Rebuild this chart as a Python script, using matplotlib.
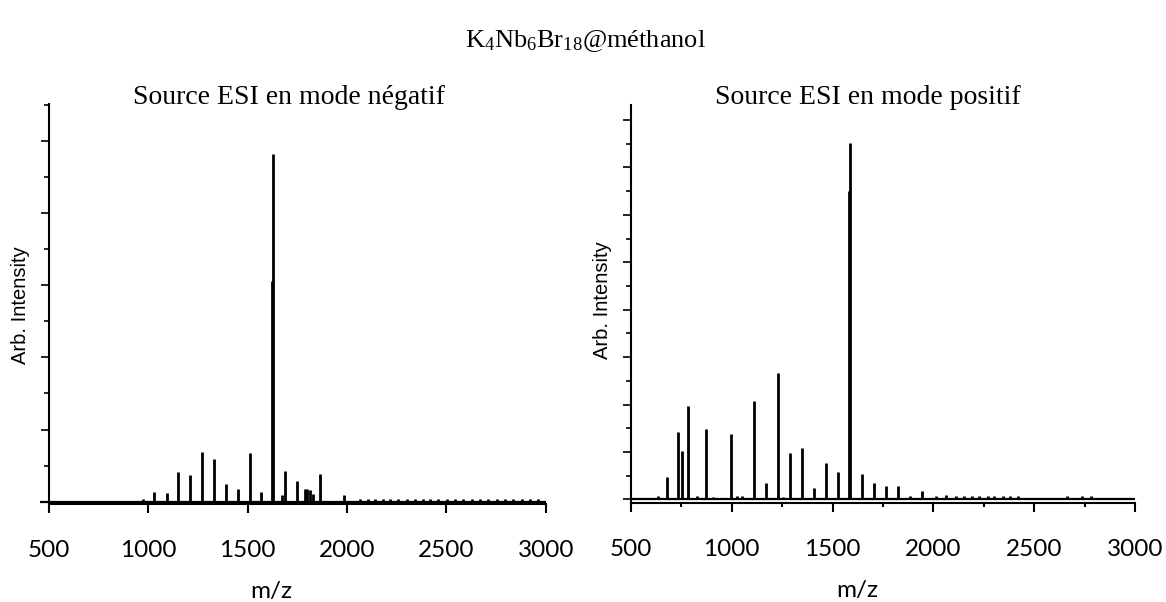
import matplotlib
matplotlib.use("Agg")
import matplotlib.pyplot as plt
from matplotlib.ticker import MultipleLocator

plt.rcParams['font.family'] = ['Lato', 'DejaVu Sans']
plt.rcParams['mathtext.fontset'] = 'custom'
plt.rcParams['mathtext.rm'] = 'Liberation Serif'

# ---------------- data (m/z, relative intensity) ----------------
neg_mz = [975, 1030, 1092, 1151, 1210, 1270, 1330, 1391, 1450, 1510, 1569,
          1624, 1628, 1671, 1686, 1747, 1789, 1800, 1814, 1827, 1864, 1986,
          2065, 2107, 2141, 2183, 2216, 2258, 2300, 2342, 2384, 2418, 2459,
          2502, 2543, 2585, 2627, 2669, 2711, 2753, 2795, 2837, 2879, 2921, 2963]
neg_int = [0.03, 0.13, 0.115, 0.415, 0.37, 0.69, 0.59, 0.25, 0.17, 0.68, 0.13,
           3.06, 4.82, 0.09, 0.43, 0.29, 0.17, 0.17, 0.155, 0.10, 0.39, 0.09,
           0.03, 0.035, 0.03, 0.035, 0.03, 0.035, 0.03, 0.035, 0.03, 0.035, 0.03,
           0.035, 0.03, 0.03, 0.03, 0.03, 0.03, 0.03, 0.03, 0.03, 0.03, 0.03, 0.03]
neg_range = [455, 3000]

pos_mz = [571, 637, 678, 736, 753, 782, 830, 875, 908, 995, 1025, 1050,
          1111, 1170, 1231, 1256, 1291, 1350, 1410, 1469, 1529, 1582, 1587,
          1647, 1707, 1766, 1826, 1886, 1943, 2013, 2062, 2112, 2153, 2191,
          2227, 2269, 2301, 2343, 2381, 2420, 2660, 2736, 2781]
pos_int = [0.03, 0.08, 0.48, 1.43, 1.01, 1.97, 0.07, 1.48, 0.05, 1.38, 0.06, 0.06,
           2.08, 0.34, 2.67, 0.04, 0.97, 1.08, 0.23, 0.77, 0.57, 6.5, 7.52,
           0.53, 0.34, 0.29, 0.28, 0.08, 0.18, 0.08, 0.10, 0.07, 0.06, 0.08,
           0.06, 0.07, 0.06, 0.06, 0.06, 0.07, 0.08, 0.07, 0.07]
pos_range = [500, 3000]

x_limits = [500, 3000]
x_major = 500
x_minor = 250

main_title = r'K$\mathregular{_4}$Nb$\mathregular{_6}$Br$\mathregular{_{18}}$@méthanol'
titles = ['Source ESI en mode négatif', 'Source ESI en mode positif']
ylabel = 'Arb. Intensity'
xlabel = 'm/z'

# ---------------- figure ----------------
W, H = 1166, 602
fig = plt.figure(figsize=(W / 100, H / 100), dpi=100)
axL = fig.add_axes([49 / W, 1 - 504.3 / H, 496.7 / W, 400.3 / H])
axR = fig.add_axes([630.7 / W, 1 - 503.3 / H, 504.6 / W, 398.3 / H])


def style(ax, ylim, minor_x):
    ax.set_xlim(*x_limits)
    ax.set_ylim(*ylim)
    for s in ('top', 'right'):
        ax.spines[s].set_visible(False)
    for s in ('left', 'bottom'):
        ax.spines[s].set_linewidth(1.5)
    ax.xaxis.set_major_locator(MultipleLocator(x_major))
    if minor_x:
        ax.xaxis.set_minor_locator(MultipleLocator(x_minor))
    ax.yaxis.set_major_locator(MultipleLocator(1))
    ax.yaxis.set_minor_locator(MultipleLocator(0.5))
    ax.tick_params(axis='x', which='major', direction='out', length=6.5,
                   width=1.5, labelsize=17.5, pad=19, colors='black')
    ax.tick_params(axis='x', which='minor', direction='out', length=3, width=1.5)
    ax.tick_params(axis='y', which='major', direction='out', length=6,
                   width=1.2, labelleft=False)
    ax.tick_params(axis='y', which='minor', direction='out', length=3.5, width=1.2)


def spectrum(ax, mz, inten, rng):
    ax.hlines(0, rng[0], rng[1], color='black', lw=1.6, clip_on=False)
    ax.vlines(mz, 0, inten, color='black', lw=2.0)


spectrum(axL, neg_mz, neg_int, neg_range)
spectrum(axR, pos_mz, pos_int, pos_range)
style(axL, (-0.037, 5.515), False)
style(axR, (-0.084, 8.318), True)

for ax, xc, yc, lx, ly in [(axL, -0.0564, 0.498, 0.447, -0.2166),
                           (axR, -0.0549, 0.510, 0.4485, -0.220)]:
    ax.set_ylabel(ylabel, family='Liberation Sans', fontsize=14.5)
    ax.yaxis.set_label_coords(xc, yc)
    ax.yaxis.label.set_verticalalignment('center')
    ax.set_xlabel(xlabel, fontsize=17.5)
    ax.xaxis.set_label_coords(lx, ly)
    ax.xaxis.label.set_verticalalignment('center')

fig.text(585 / W, 1 - 47 / H, main_title, family='Liberation Serif',
         fontsize=19, ha='center', va='baseline')
fig.text(289 / W, 1 - 104 / H, titles[0], family='Liberation Serif',
         fontsize=20, ha='center', va='baseline')
fig.text(868 / W, 1 - 104 / H, titles[1], family='Liberation Serif',
         fontsize=20, ha='center', va='baseline')

fig.savefig('out.png', dpi=100, facecolor='white')
